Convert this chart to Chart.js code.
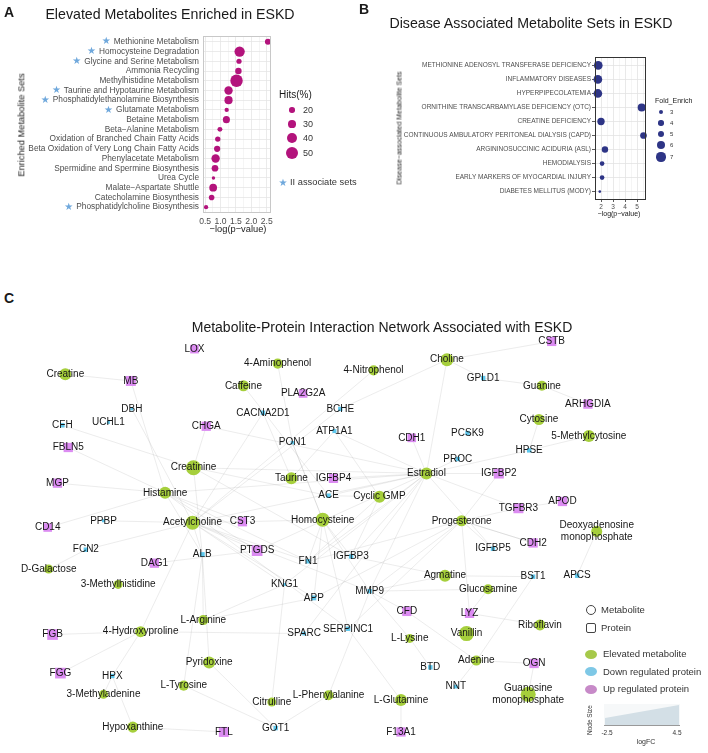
<!DOCTYPE html>
<html><head><meta charset="utf-8">
<script src="https://cdn.jsdelivr.net/npm/chart.js@4.4.1/dist/chart.umd.min.js"></script>
<style>
body{margin:0;width:708px;height:753px;position:relative;background:#fff;font-family:"Liberation Sans",Arial,sans-serif;overflow:hidden}
.t{position:absolute;white-space:nowrap;line-height:1}
canvas{position:absolute}
</style></head><body>
<canvas id="cA" width="290" height="240" style="left:0;top:0"></canvas>
<canvas id="cB" width="348" height="220" style="left:360px;top:0"></canvas>
<canvas id="cC" width="708" height="423" style="left:0;top:330px"></canvas>
<script>
// ---------- Panel A data ----------
const setNames = ["Methionine Metabolism","Homocysteine Degradation","Glycine and Serine Metabolism","Ammonia Recycling","Methylhistidine Metabolism","Taurine and Hypotaurine Metabolism","Phosphatidylethanolamine Biosynthesis","Glutamate Metabolism","Betaine Metabolism","Beta\u2212Alanine Metabolism","Oxidation of Branched Chain Fatty Acids","Beta Oxidation of Very Long Chain Fatty Acids","Phenylacetate Metabolism","Spermidine and Spermine Biosynthesis","Urea Cycle","Malate\u2212Aspartate Shuttle","Catecholamine Biosynthesis","Phosphatidylcholine Biosynthesis"];
const setLogP = [2.54,1.62,1.60,1.58,1.52,1.26,1.26,1.20,1.19,0.98,0.91,0.89,0.84,0.82,0.77,0.76,0.71,0.53];
const setHits = [22,42,18,24,52,33,32,14,27,17,19,23,33,25,10,30,20,14];
const setStar = [true,true,true,false,false,true,true,true,false,false,false,false,false,false,false,false,false,true];
const xTicksA = [0.5,1.0,1.5,2.0,2.5];
const hitsLegend = [20,30,40,50];

// ---------- Panel B data ----------
const diseaseNames = ["METHIONINE ADENOSYL TRANSFERASE DEFICIENCY","INFLAMMATORY DISEASES","HYPERPIPECOLATEMIA","ORNITHINE TRANSCARBAMYLASE DEFICIENCY (OTC)","CREATINE DEFICIENCY","CONTINUOUS AMBULATORY PERITONEAL DIALYSIS (CAPD)","ARGININOSUCCINIC ACIDURIA (ASL)","HEMODIALYSIS","EARLY MARKERS OF MYOCARDIAL INJURY","DIABETES MELLITUS (MODY)"];
const diseaseLogP = [1.77,1.74,1.74,5.39,2.0,5.54,2.33,2.09,2.09,1.90];
const diseaseFold = [6.5,6.5,6.5,6.0,5.5,5.0,4.8,3.5,3.5,2.0];
const xTicksB = [2,3,4,5];
const foldLegend = [3,4,5,6,7];

// ---------- Panel C data (network layout) ----------
const nodeNames = ["Creatine","4-Aminophenol","Caffeine","4-Nitrophenol","Choline","Guanine","Cytosine","5-Methylcytosine","Creatinine","Taurine","Histamine","Estradiol","Cyclic GMP","Acetylcholine","Homocysteine","Progesterone","Deoxyadenosine\nmonophosphate","D-Galactose","3-Methylhistidine","Agmatine","Glucosamine","L-Arginine","4-Hydroxyproline","Vanillin","L-Lysine","Riboflavin","Adenine","Pyridoxine","L-Tyrosine","3-Methyladenine","L-Phenylalanine","Citrulline","Guanosine\nmonophosphate","L-Glutamine","Hypoxanthine",
"LOX","MB","PLA2G2A","DBH","CACNA2D1","BCHE","CFH","UCHL1","CHGA","ATP1A1","PON1","FBLN5","IGFBP4","MGP","ACE","CD14","PPBP","CST3","CSTB","GPLD1","ARHGDIA","CDH1","PCSK9","HPSE","PROC","IGFBP2","TGFBR3","APOD","FCN2","ALB","PTGDS","DAG1","FN1","IGFBP3","KNG1","APP","FGB","SPARC","SERPINC1","FGG","HPX","FTL","GOT1","IGFBP5","CDH2","MMP9","BST1","APCS","CFD","LYZ","OGN","BTD","NNT","F13A1"];
const nodeX = [59,276,241,374,449,546,543,594,190,290,161,428,380,189,322,464,602,42,113,447,491,200,136,469,411,544,479,206,180,98,328,270,532,402,128,
191,126,302,127,261,340,56,103,203,334,291,62,333,51,328,41,98,240,556,486,593,413,470,533,460,502,522,567,80,199,255,150,307,351,283,313,46,303,348,54,107,221,274,496,537,370,537,582,408,472,538,432,458,402];
const nodeY = [368,357,380,364,353,380,415,432,465,476,491,471,495,522,519,520,531,570,586,577,591,623,635,637,642,628,665,667,691,700,701,708,700,706,734,
342,375,388,404,408,404,421,418,422,427,439,444,476,481,494,527,520,521,334,372,399,434,429,447,456,471,507,500,550,555,551,564,562,557,586,600,638,637,632,678,681,739,735,549,543,593,578,577,614,616,668,672,692,739];
const nodeLogFC = [2.5,1.3,1.9,1.3,3.1,1.3,1.9,2.5,4.4,2.5,2.5,2.5,2.5,3.8,3.8,1.9,1.9,0.6,0.6,2.5,1.3,1.3,1.9,4.4,0.6,1.9,1.3,2.5,1.3,0.6,1.3,0.6,4.4,2.5,1.9,
1.5,2.5,1.5,-2.5,-1.5,-1.5,-1.5,-2.5,2.0,-1.8,-2.3,2.0,2.0,2.0,-1.5,1.5,-2.5,2.0,2.0,-1.5,2.0,1.5,-1.5,-1.5,-1.5,2.5,2.5,2.0,-1.5,-1.2,3.0,2.0,-1.5,-1.5,-2.5,-1.2,3.0,-2.0,-1.5,3.0,-1.5,2.5,-1.5,-1.5,2.0,-1.5,-1.5,-1.5,2.0,2.0,2.0,-1.5,-2.0,2.0];
const nodeKind = nodeNames.map((n,i)=> i<35 ? "metabolite" : (nodeLogFC[i] >= 0 ? "up" : "down"));
const edgeFrom = ["Creatine","MB","DBH","CFH","FBLN5","MGP","CD14","PPBP","CHGA","CHGA","4-Aminophenol","PON1","Caffeine","CACNA2D1","BCHE","BCHE","4-Nitrophenol","Choline","Choline","Choline","GPLD1","Guanine","Cytosine","5-Methylcytosine","HPSE","PROC","CDH1","Estradiol","Estradiol","Estradiol","Estradiol","Estradiol","Estradiol","Estradiol","Estradiol","Estradiol","Estradiol","Estradiol","Estradiol","Estradiol","Estradiol","Estradiol","IGFBP2","TGFBR3","IGFBP5","Progesterone","Progesterone","Progesterone","Progesterone","Progesterone","Progesterone","Cyclic GMP","Cyclic GMP","Cyclic GMP","Cyclic GMP","APOD","Deoxyadenosine\nmonophosphate","CDH2","BST1","BST1","Agmatine","Agmatine","Glucosamine","Glucosamine","LYZ","CFD","MMP9","MMP9","L-Lysine","Adenine","Adenine","OGN","L-Glutamine","L-Glutamine","L-Phenylalanine","L-Phenylalanine","Citrulline","Pyridoxine","L-Tyrosine","L-Tyrosine","Pyridoxine","L-Arginine","L-Arginine","L-Arginine","4-Hydroxyproline","4-Hydroxyproline","4-Hydroxyproline","4-Hydroxyproline","4-Hydroxyproline","3-Methyladenine","HPX","Hypoxanthine","Acetylcholine","Acetylcholine","Acetylcholine","Acetylcholine","Acetylcholine","Acetylcholine","Acetylcholine","Acetylcholine","D-Galactose","DAG1","Histamine","Histamine","Histamine","Histamine","Creatinine","Creatinine","Homocysteine","Homocysteine","Homocysteine","Homocysteine","Homocysteine","Homocysteine","Taurine","Taurine","Creatinine","Histamine","Homocysteine"];
const edgeTo = ["MB","Histamine","Acetylcholine","Creatinine","Histamine","Histamine","Histamine","Acetylcholine","Creatinine","Estradiol","PON1","Homocysteine","ACE","Acetylcholine","Acetylcholine","Choline","Acetylcholine","CSTB","GPLD1","Estradiol","Guanine","ARHGDIA","HPSE","HPSE","Estradiol","Estradiol","Estradiol","IGFBP2","IGFBP4","ATP1A1","Creatinine","Histamine","Acetylcholine","PTGDS","FN1","IGFBP3","MMP9","KNG1","SPARC","TGFBR3","IGFBP5","ACE","Progesterone","Progesterone","Progesterone","FN1","MMP9","SERPINC1","CDH2","APP","LYZ","ACE","FN1","IGFBP3","ATP1A1","TGFBR3","APCS","Progesterone","Agmatine","Adenine","MMP9","IGFBP3","MMP9","LYZ","Riboflavin","Adenine","CFD","L-Lysine","BTD","OGN","NNT","Guanosine\nmonophosphate","F13A1","SERPINC1","MMP9","GOT1","KNG1","GOT1","GOT1","ALB","ALB","ALB","APP","KNG1","SPARC","FGB","FGG","HPX","Acetylcholine","HPX","Hypoxanthine","FTL","ALB","PTGDS","FN1","APP","MMP9","KNG1","CST3","FCN2","FCN2","PTGDS","ALB","PTGDS","FN1","CST3","ALB","ACE","PON1","FN1","IGFBP3","MMP9","CST3","SERPINC1","CACNA2D1","ATP1A1","IGFBP3","SERPINC1","APP"];
</script>
<script>
Chart.defaults.font.family = '"Liberation Sans", Arial, sans-serif';
Chart.defaults.animation = false;
const body = document.body;
function txt(x, y, s, size, o) {
  o = o || {};
  const d = document.createElement('div');
  d.className = 't';
  d.textContent = s;
  d.style.fontSize = size + 'px';
  d.style.color = o.color || '#1a1a1a';
  if (o.bold) d.style.fontWeight = 'bold';
  const align = o.align || 'center';
  const tx = align === 'center' ? '-50%' : (align === 'right' ? '-100%' : '0');
  d.style.left = x + 'px'; d.style.top = y + 'px';
  d.style.transform = 'translate(' + tx + ',-50%)';
  if (o.rot) { d.style.transform = 'translate(-50%,-50%) rotate(' + o.rot + 'deg)'; }
  body.appendChild(d);
  return d;
}
function shape(x, y, w, h, css) {
  const d = document.createElement('div');
  d.style.position = 'absolute';
  d.style.left = (x - w / 2) + 'px'; d.style.top = (y - h / 2) + 'px';
  d.style.width = w + 'px'; d.style.height = h + 'px';
  d.style.boxSizing = 'border-box';
  Object.assign(d.style, css);
  body.appendChild(d);
  return d;
}
const frame = color => ({
  id: 'frame',
  afterDraw(chart) {
    const a = chart.chartArea, c = chart.ctx;
    c.save(); c.strokeStyle = color; c.lineWidth = 1;
    c.strokeRect(Math.round(a.left) + 0.5, Math.round(a.top) + 0.5, Math.round(a.right - a.left) - 1, Math.round(a.bottom - a.top) - 1);
    c.restore();
  }
});

// ---------- Panel A ----------
const hitsRadius = h => 2.8 + (h - 20) * 0.107;
const minorA = [];
for (let i = 0; i < xTicksA.length; i++) { minorA.push(xTicksA[i]); if (i < xTicksA.length - 1) minorA.push((xTicksA[i] + xTicksA[i + 1]) / 2); }
const fontA = '8.3px "Liberation Sans", Arial';
const starPlugin = {
  id: 'stars',
  afterDraw(chart) {
    const ys = chart.scales.y, c = chart.ctx;
    c.save();
    const pad = 4;
    setNames.forEach((n, i) => {
      if (!setStar[i]) return;
      c.font = fontA;
      const w = c.measureText(n).width;
      const y = ys.getPixelForValue(i);
      c.font = '10px "DejaVu Sans"';
      c.fillStyle = '#6fa8dc'; c.textAlign = 'center'; c.textBaseline = 'middle';
      c.fillText('\u2605', ys.right - pad - w - 7.5, y);
    });
    c.restore();
  }
};
new Chart(document.getElementById('cA'), {
  type: 'bubble',
  data: { datasets: [{ data: setNames.map((n, i) => ({ x: setLogP[i], y: i, r: hitsRadius(setHits[i]) })), backgroundColor: '#b3137c', borderWidth: 0, clip: false }] },
  options: {
    responsive: false, devicePixelRatio: 1,
    plugins: { legend: { display: false }, tooltip: { enabled: false } },
    layout: { padding: { top: 36, right: 19, left: 0, bottom: 0 } },
    scales: {
      x: {
        type: 'linear', min: 0.43, max: 2.64,
        afterBuildTicks: s => { s.ticks = minorA.map(v => ({ value: v })); },
        afterFit: s => { s.height = 27; },
        ticks: { autoSkip: false, maxRotation: 0, padding: 3, color: '#4d4d4d', font: { size: 8.6 }, callback: v => xTicksA.includes(v) ? v.toFixed(1) : '' },
        grid: { drawTicks: false, color: c => xTicksA.includes(c.tick.value) ? '#e6e6e6' : '#f3f3f3', lineWidth: 0.8 },
        border: { display: false }
      },
      y: {
        type: 'linear', reverse: true, min: -0.6, max: 17.6,
        afterBuildTicks: s => { s.ticks = setNames.map((n, i) => ({ value: i })); },
        afterFit: s => { s.width = 203; },
        ticks: { autoSkip: false, padding: 4, color: '#4d4d4d', font: { size: 8.3 }, callback: v => setNames[v] },
        grid: { drawTicks: false, color: '#e6e6e6', lineWidth: 0.8 },
        border: { display: false }
      }
    }
  },
  plugins: [frame('#c8c8c8'), starPlugin]
});

// ---------- Panel B ----------
const foldRadius = f => 2 + (f - 3) * 0.67;
const minorB = [];
for (let i = 0; i < xTicksB.length; i++) { minorB.push(xTicksB[i]); if (i < xTicksB.length - 1) minorB.push((xTicksB[i] + xTicksB[i + 1]) / 2); }
minorB.unshift(1.5); minorB.push(5.5);
new Chart(document.getElementById('cB'), {
  type: 'bubble',
  data: { datasets: [{ data: diseaseNames.map((n, i) => ({ x: diseaseLogP[i], y: i, r: foldRadius(diseaseFold[i]) })), backgroundColor: '#2e3586', borderWidth: 0, clip: false }] },
  options: {
    responsive: false, devicePixelRatio: 1,
    plugins: { legend: { display: false }, tooltip: { enabled: false } },
    layout: { padding: { top: 57, right: 62, left: 0, bottom: 0 } },
    scales: {
      x: {
        type: 'linear', min: 1.5, max: 5.75,
        afterBuildTicks: s => { s.ticks = minorB.map(v => ({ value: v })); },
        afterFit: s => { s.height = 20; },
        ticks: { autoSkip: false, maxRotation: 0, padding: 1, color: '#4d4d4d', font: { size: 6.5 }, callback: v => xTicksB.includes(v) ? String(v) : '' },
        grid: { drawTicks: true, tickLength: 2, tickColor: c => xTicksB.includes(c.tick.value) ? '#333' : 'rgba(0,0,0,0)', color: c => xTicksB.includes(c.tick.value) ? '#e3e3e3' : '#f2f2f2', lineWidth: 0.8 },
        border: { display: false }
      },
      y: {
        type: 'linear', reverse: true, min: -0.6, max: 9.6,
        afterBuildTicks: s => { s.ticks = diseaseNames.map((n, i) => ({ value: i })); },
        afterFit: s => { s.width = 235; },
        ticks: { autoSkip: false, padding: 1, color: '#4d4d4d', font: { size: 6.5 }, callback: v => diseaseNames[v] },
        grid: { drawTicks: true, tickLength: 3, tickColor: '#333', color: '#e3e3e3', lineWidth: 0.8 },
        border: { display: false }
      }
    }
  },
  plugins: [frame('#333333')]
});

// ---------- Panel C ----------
const colors = { metabolite: '#a6cf3c', up: '#dc8cf2', down: '#5ec8ee' };
const nodeRadius = i => {
  const lfc = nodeLogFC[i];
  if (nodeKind[i] === 'metabolite') return 2 + (lfc + 2.5) * 0.8;
  return (1.5 + (lfc + 2.5) * 0.7) / Math.SQRT1_2;
};
const idx = {}; nodeNames.forEach((n, i) => idx[n] = i);
const edgePlugin = {
  id: 'edges',
  beforeDatasetsDraw(chart) {
    const pts = chart.getDatasetMeta(0).data, c = chart.ctx;
    c.save(); c.strokeStyle = 'rgba(150,150,150,0.3)'; c.lineWidth = 0.6;
    edgeFrom.forEach((a, k) => {
      const p = pts[idx[a]], q = pts[idx[edgeTo[k]]];
      if (!p || !q) return;
      c.beginPath(); c.moveTo(p.x, p.y); c.lineTo(q.x, q.y); c.stroke();
    });
    c.restore();
  }
};
const labelPlugin = {
  id: 'labels',
  afterDatasetsDraw(chart) {
    const pts = chart.getDatasetMeta(0).data, c = chart.ctx;
    c.save(); c.font = '10px "Liberation Sans", Arial'; c.fillStyle = '#161616';
    c.textAlign = 'center'; c.textBaseline = 'middle';
    nodeNames.forEach((n, i) => {
      const lines = n.split('\n'), p = pts[i];
      lines.forEach((l, j) => c.fillText(l, p.x, p.y + (j - (lines.length - 1) / 2) * 12.5));
    });
    c.restore();
  }
};
new Chart(document.getElementById('cC'), {
  type: 'scatter',
  data: { datasets: [{ data: nodeNames.map((n, i) => ({ x: nodeX[i], y: nodeY[i] })), clip: false,
    pointStyle: c => nodeKind[c.dataIndex] === 'metabolite' ? 'circle' : 'rect',
    pointRadius: c => nodeRadius(c.dataIndex),
    backgroundColor: c => colors[nodeKind[c.dataIndex]], borderWidth: 0 }] },
  options: {
    responsive: false, devicePixelRatio: 1,
    layout: { padding: 0 },
    plugins: { legend: { display: false }, tooltip: { enabled: false } },
    scales: { x: { display: false, min: 0, max: 708 }, y: { display: false, min: 330, max: 753, reverse: true } }
  },
  plugins: [edgePlugin, labelPlugin]
});

// ---------- text & legends ----------
txt(4, 12, 'A', 14, { bold: true, align: 'left' });
txt(359, 9, 'B', 14, { bold: true, align: 'left' });
txt(4, 298, 'C', 14, { bold: true, align: 'left' });
txt(170, 14, 'Elevated Metabolites Enriched in ESKD', 14.2);
txt(531, 23, 'Disease Associated Metabolite Sets in ESKD', 14.2);
txt(382, 327, 'Metabolite-Protein Interaction Network Associated with ESKD', 14);
txt(22, 125, 'Enriched Metabolite Sets', 9.3, { rot: -90 });
txt(238, 230, '\u2212log(p\u2212value)', 9.3);
txt(399, 128, 'Disease\u2212associated Metabolite Sets', 7, { rot: -90 });
txt(619, 213, '\u2212log(p\u2212value)', 7);
// legend A
txt(279, 95, 'Hits(%)', 10, { align: 'left' });
const lyA = [110, 124, 138, 153];
hitsLegend.forEach((h, i) => {
  const r = hitsRadius(h);
  shape(292, lyA[i], 2 * r, 2 * r, { borderRadius: '50%', background: '#b3137c' });
  txt(303, lyA[i], String(h), 9, { align: 'left', color: '#333' });
});
txt(283, 183, '\u2605', 10, { color: '#6fa8dc', align: 'center' }).style.fontFamily = '"DejaVu Sans"';
txt(290, 183, 'II associate sets', 9.3, { align: 'left', color: '#333' });
// legend B
txt(655, 100, 'Fold_Enrich', 7, { align: 'left' });
const lyB = [112, 123, 134, 145, 157];
foldLegend.forEach((f, i) => {
  const r = foldRadius(f);
  shape(661, lyB[i], 2 * r, 2 * r, { borderRadius: '50%', background: '#2e3586' });
  txt(670, lyB[i], String(f), 6, { align: 'left', color: '#333' });
});
// legend C
shape(591, 610, 10, 10, { borderRadius: '50%', border: '1px solid #444' });
txt(601, 610, 'Metabolite', 9.5, { align: 'left', color: '#333' });
shape(591, 628, 10, 10, { borderRadius: '2px', border: '1px solid #444' });
txt(601, 628, 'Protein', 9.5, { align: 'left', color: '#333' });
shape(591, 654, 12, 9, { borderRadius: '50%', background: '#a6c94a' });
txt(603, 654, 'Elevated metabolite', 9.5, { align: 'left', color: '#333' });
shape(591, 671, 12, 9, { borderRadius: '50%', background: '#7ec8e6' });
txt(603, 672, 'Down regulated protein', 9.5, { align: 'left', color: '#333' });
shape(591, 689, 12, 9, { borderRadius: '50%', background: '#c78ac8' });
txt(603, 689, 'Up regulated protein', 9.5, { align: 'left', color: '#333' });
shape(642, 715, 76, 22, { background: '#f6f8f9' });
shape(642, 715, 74, 20, { background: '#d3dfe6', clipPath: 'polygon(0 65%, 100% 0, 100% 100%, 0 100%)' });
shape(642, 725.5, 76, 1, { background: '#999' });
txt(607, 733, '-2.5', 6.5, { color: '#333' });
txt(677, 733, '4.5', 6.5, { color: '#333' });
txt(646, 741, 'logFC', 7, { color: '#333' });
txt(590, 720, 'Node Size', 6.5, { rot: -90, color: '#333' });
</script>
</body></html>
